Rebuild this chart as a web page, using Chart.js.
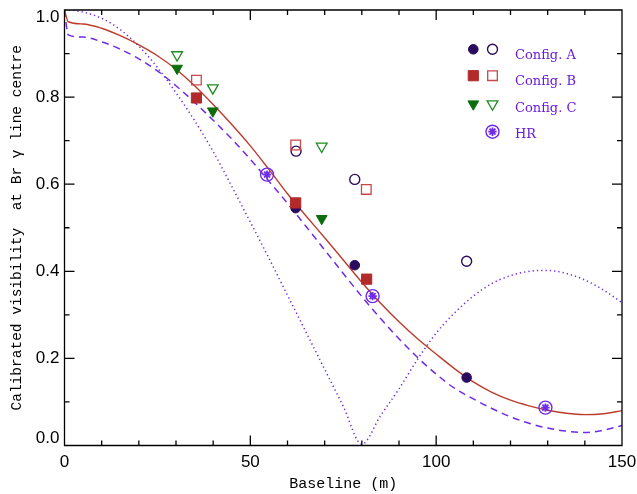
<!DOCTYPE html>
<html>
<head>
<meta charset="utf-8">
<script src="https://cdn.jsdelivr.net/npm/chart.js@4.4.0/dist/chart.umd.min.js"></script>
<style>
html,body{margin:0;padding:0;background:#ffffff;}
#wrap{width:637px;height:494px;position:relative;}
</style>
</head>
<body>
<div id="wrap"><canvas id="c" width="637" height="494"></canvas></div>
<script>
// ---------- data ----------
const curveX     = [0, 1, 5, 10, 15, 20, 25, 30, 35, 40, 45, 50, 55, 60, 65, 70, 75, 80, 85, 90, 95, 100, 105, 110, 115, 120, 125, 130, 135, 140, 145, 150];
const fitSolid   = [1.0, 0.973, 0.968, 0.958, 0.941, 0.920, 0.895, 0.864, 0.826, 0.783, 0.737, 0.688, 0.634, 0.578, 0.527, 0.477, 0.426, 0.375, 0.327, 0.284, 0.245, 0.210, 0.176, 0.146, 0.122, 0.104, 0.091, 0.081, 0.074, 0.071, 0.073, 0.080];
const fitDashed  = [1.0, 0.943, 0.938, 0.927, 0.910, 0.888, 0.860, 0.826, 0.788, 0.747, 0.704, 0.657, 0.607, 0.556, 0.503, 0.449, 0.395, 0.342, 0.292, 0.245, 0.202, 0.164, 0.131, 0.107, 0.085, 0.066, 0.051, 0.040, 0.033, 0.030, 0.035, 0.046];
const diskDotted = [1.0, 1.0, 0.995, 0.981, 0.955, 0.917, 0.868, 0.810, 0.746, 0.675, 0.595, 0.513, 0.430, 0.345, 0.260, 0.175, 0.090, 0.003, 0.068, 0.130, 0.198, 0.258, 0.305, 0.343, 0.372, 0.390, 0.400, 0.402, 0.395, 0.380, 0.357, 0.328];

const configAFilledX = [62.2, 78.1, 108.2];
const configAFilledY = [0.545, 0.414, 0.156];
const configAOpenX   = [62.3, 78.1, 108.2];
const configAOpenY   = [0.676, 0.611, 0.423];
const configBFilledX = [35.5, 62.2, 81.3];
const configBFilledY = [0.798, 0.557, 0.382];
const configBOpenX   = [35.5, 62.2, 81.2];
const configBOpenY   = [0.839, 0.690, 0.588];
const configCFilledX = [30.3, 39.9, 69.2];
const configCFilledY = [0.866, 0.768, 0.521];
const configCOpenX   = [30.3, 39.9, 69.2];
const configCOpenY   = [0.897, 0.821, 0.687];
const hrX            = [54.5, 82.9, 129.4];
const hrY            = [0.622, 0.343, 0.087];

const legendLabels = ['Config. A', 'Config. B', 'Config. C', 'HR'];
const xTickValues = [0, 50, 100, 150];
const yTickValues = [0.0, 0.2, 0.4, 0.6, 0.8, 1.0];
const xMinorStep = 10;
const yMinorStep = 0.1;

// ---------- styles ----------
const NAVY = '#2a0b5e';
const RED = '#b22a2a';
const REDLINE = '#bd3b2c';
const REDOPEN = '#c8484a';
const GREEN = '#0b6d0b';
const GREENOPEN = '#1f8a1f';
const VIOLET = '#6d2bea';
const LEGENDTEXT = '#6a1ad8';
const TITLEFONT = '"Liberation Mono", "Courier New", monospace';

const pts = (xs, ys) => xs.map((x, i) => ({x: x, y: ys[i]}));

function lineDs(ys, color, dash, width, order) {
  return {
    data: pts(curveX, ys), showLine: true, pointRadius: 0, pointHoverRadius: 0,
    borderColor: color, backgroundColor: color, borderWidth: width, borderDash: dash,
    cubicInterpolationMode: 'monotone', fill: false, order: order
  };
}
function markerDs(xs, ys, style, radius, fillC, strokeC, bw, rot, order) {
  return {
    data: pts(xs, ys), showLine: false, pointStyle: style, pointRadius: radius, pointHoverRadius: radius,
    pointBackgroundColor: fillC, pointBorderColor: strokeC, pointBorderWidth: bw, pointRotation: rot || 0,
    order: order
  };
}

const datasets = [
  lineDs(fitSolid, REDLINE, [], 1.4, 10),
  lineDs(fitDashed, VIOLET, [7, 5], 1.5, 11),
  lineDs(diskDotted, VIOLET, [1.3, 3], 1.5, 12),
  markerDs(configAFilledX, configAFilledY, 'circle', 4.8, NAVY, NAVY, 1, 0, 6),
  markerDs(configAOpenX, configAOpenY, 'circle', 5, 'rgba(0,0,0,0)', NAVY, 1.4, 0, 6),
  markerDs(configCFilledX, configCFilledY, 'triangle', 6.2, GREEN, GREEN, 1, 180, 5),
  markerDs(configCOpenX, configCOpenY, 'triangle', 6.2, 'rgba(0,0,0,0)', GREENOPEN, 1.3, 180, 5),
  markerDs(configBFilledX, configBFilledY, 'rect', 7.2, RED, RED, 1, 0, 4),
  markerDs(configBOpenX, configBOpenY, 'rect', 6.8, 'rgba(0,0,0,0)', REDOPEN, 1.3, 0, 4),
  markerDs(hrX, hrY, 'circle', 6.5, 'rgba(0,0,0,0)', VIOLET, 1.4, 0, 2),
  markerDs(hrX, hrY, 'star', 4.2, VIOLET, VIOLET, 1.8, 0, 1)
];

// ---------- manual marker drawing for the legend ----------
function drawMarker(ctx, style, x, y, r, fillC, strokeC, bw, rot) {
  ctx.save();
  ctx.fillStyle = fillC; ctx.strokeStyle = strokeC; ctx.lineWidth = bw;
  ctx.beginPath();
  if (style === 'circle') {
    ctx.arc(x, y, r, 0, Math.PI * 2);
  } else if (style === 'rect') {
    const s = r * Math.SQRT1_2;
    ctx.rect(x - s, y - s, 2 * s, 2 * s);
  } else if (style === 'triangle') {
    let a = (rot || 0) * Math.PI / 180;
    ctx.moveTo(x + Math.sin(a) * r, y - Math.cos(a) * r);
    a += 2 * Math.PI / 3;
    ctx.lineTo(x + Math.sin(a) * r, y - Math.cos(a) * r);
    a += 2 * Math.PI / 3;
    ctx.lineTo(x + Math.sin(a) * r, y - Math.cos(a) * r);
    ctx.closePath();
  } else if (style === 'star') {
    for (let k = 0; k < 4; k++) {
      const a = k * Math.PI / 4;
      ctx.moveTo(x - Math.cos(a) * r, y - Math.sin(a) * r);
      ctx.lineTo(x + Math.cos(a) * r, y + Math.sin(a) * r);
    }
  }
  if (style !== 'star') ctx.fill();
  ctx.stroke();
  ctx.restore();
}

const legendPlugin = {
  id: 'cfgLegend',
  afterDatasetsDraw(chart) {
    const ctx = chart.ctx;
    const {right, top} = chart.chartArea;
    const x1 = right - 148.7, x2 = right - 129.5, tx = right - 107;
    const rows = [top + 39.3, top + 65.7, top + 94, top + 121.7];
    const base = [top + 48.5, top + 75, top + 101.5, top + 128.3];
    drawMarker(ctx, 'circle', x1, rows[0], 4.8, NAVY, NAVY, 1, 0);
    drawMarker(ctx, 'circle', x2, rows[0], 5, 'rgba(0,0,0,0)', NAVY, 1.4, 0);
    drawMarker(ctx, 'rect', x1, rows[1], 7.2, RED, RED, 1, 0);
    drawMarker(ctx, 'rect', x2, rows[1], 6.8, 'rgba(0,0,0,0)', REDOPEN, 1.3, 0);
    drawMarker(ctx, 'triangle', x1, rows[2], 6.2, GREEN, GREEN, 1, 180);
    drawMarker(ctx, 'triangle', x2, rows[2], 6.2, 'rgba(0,0,0,0)', GREENOPEN, 1.3, 180);
    drawMarker(ctx, 'circle', x2, rows[3], 6.5, 'rgba(0,0,0,0)', VIOLET, 1.4, 0);
    drawMarker(ctx, 'star', x2, rows[3], 4.2, VIOLET, VIOLET, 1.8, 0);
    ctx.save();
    ctx.fillStyle = LEGENDTEXT;
    ctx.font = '13px "DejaVu Serif"';
    ctx.textAlign = 'left';
    ctx.textBaseline = 'alphabetic';
    legendLabels.forEach((t, i) => ctx.fillText(t, tx, base[i]));
    ctx.restore();
  }
};

// ---------- box with inward ticks on all four sides ----------
const framePlugin = {
  id: 'frameTicks',
  afterDatasetsDraw(chart) {
    const ctx = chart.ctx;
    const {left, right, top, bottom} = chart.chartArea;
    const xs = chart.scales.x, ys = chart.scales.y;
    ctx.save();
    ctx.strokeStyle = '#000';
    ctx.lineWidth = 1.3;
    ctx.beginPath();
    ctx.rect(left, top, right - left, bottom - top);
    const nx = Math.round((xs.max - xs.min) / xMinorStep);
    for (let i = 0; i <= nx; i++) {
      const v = xs.min + i * xMinorStep;
      const px = xs.getPixelForValue(v);
      const len = xTickValues.some(t => Math.abs(t - v) < 1e-6) ? 10 : 5;
      ctx.moveTo(px, bottom); ctx.lineTo(px, bottom - len);
      ctx.moveTo(px, top); ctx.lineTo(px, top + len);
    }
    const ny = Math.round((ys.max - ys.min) / yMinorStep);
    for (let i = 0; i <= ny; i++) {
      const v = ys.min + i * yMinorStep;
      const py = ys.getPixelForValue(v);
      const len = yTickValues.some(t => Math.abs(t - v) < 1e-6) ? 10 : 5;
      ctx.moveTo(left, py); ctx.lineTo(left + len, py);
      ctx.moveTo(right, py); ctx.lineTo(right - len, py);
    }
    ctx.stroke();
    ctx.restore();
  }
};

new Chart(document.getElementById('c'), {
  type: 'scatter',
  data: {datasets: datasets},
  plugins: [framePlugin, legendPlugin],
  options: {
    responsive: false,
    animation: false,
    devicePixelRatio: 1,
    layout: {padding: {top: 10, right: 15, left: 0, bottom: 0}},
    plugins: {legend: {display: false}, tooltip: {enabled: false}},
    scales: {
      x: {
        type: 'linear', min: 0, max: 150,
        afterFit: s => { s.height = 48.5; s.paddingLeft = 0; s.paddingRight = 0; },
        afterBuildTicks: s => { s.ticks = xTickValues.map(v => ({value: v})); },
        grid: {display: false, drawTicks: false, tickLength: 0},
        border: {display: false},
        ticks: {color: '#000', padding: 7, font: {family: '"Liberation Sans", Arial, sans-serif', size: 17}, maxRotation: 0, autoSkip: false,
                callback: v => String(v)},
        title: {display: true, text: 'Baseline (m)', color: '#000', font: {family: TITLEFONT, size: 15}, padding: {top: 0, bottom: 1}}
      },
      y: {
        type: 'linear', min: 0, max: 1,
        afterFit: s => { s.width = 64.5; s.paddingTop = 0; s.paddingBottom = 0; },
        afterBuildTicks: s => { s.ticks = yTickValues.map(v => ({value: v})); },
        grid: {display: false, drawTicks: false, tickLength: 0},
        border: {display: false},
        ticks: {color: '#000', padding: 5, autoSkip: false,
                font: c => ({family: '"Liberation Sans", Arial, sans-serif', size: 17,
                             lineHeight: (c.tick && (c.tick.value === 0 || c.tick.value === 1)) ? 0.9 : 1.2}),
                callback: v => {
                  const s = Number(v).toFixed(1);
                  if (v === 1) return ['', s];
                  if (v === 0) return [s, ''];
                  return s;
                }},
        title: {display: true, text: 'Calibrated visibility  at Br \u03b3 line centre', color: '#000', font: {family: TITLEFONT, size: 14.5}, padding: {top: 8, bottom: 0}}
      }
    }
  }
});
</script>
</body>
</html>
